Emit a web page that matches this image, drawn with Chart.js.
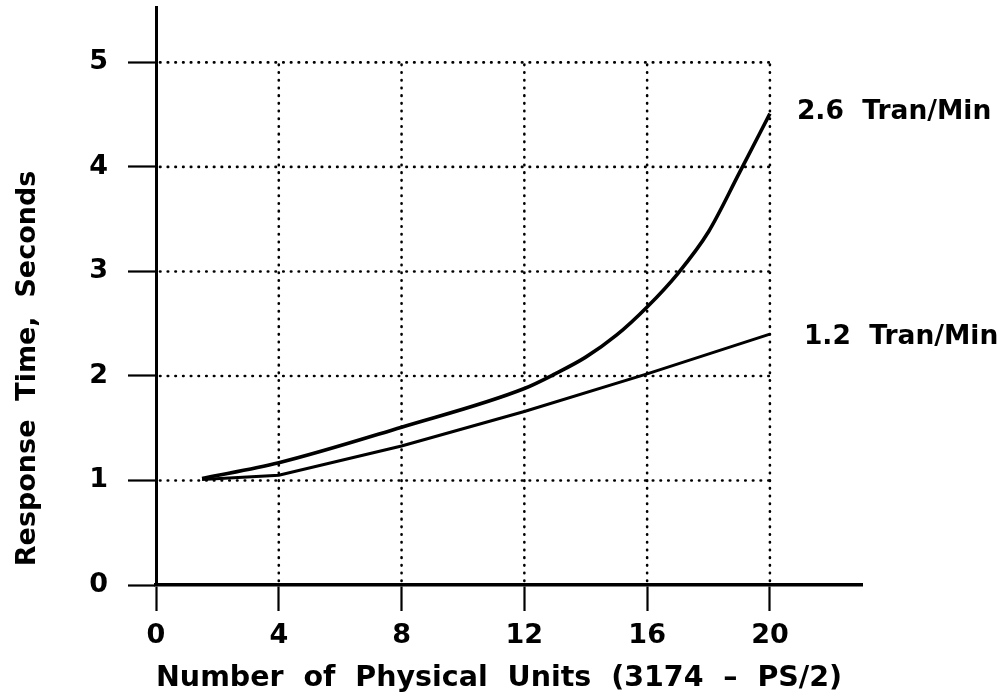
<!DOCTYPE html>
<html lang="en">
<head>
  <meta charset="UTF-8" />
  <title>Response Time vs Physical Units</title>
  <script src="https://cdn.jsdelivr.net/npm/chart.js"></script>
  <style>
    body {
      margin: 0;
      background-color: #ffffff;
    }
    .chart-wrap {
      width: 1005px;
      height: 700px;
    }
  </style>
</head>
<body>
  <div class="chart-wrap">
    <canvas id="lineChart"></canvas>
  </div>

  <script>
    // values
    const fastX = [1.5, 4, 8, 12, 13, 14, 15, 16, 17, 18, 19, 20];
    const fastY = [1.02, 1.17, 1.51, 1.88, 2.02, 2.18, 2.39, 2.66, 2.98, 3.38, 3.94, 4.51];
    const slowX = [1.5, 4, 8, 12, 16, 20];
    const slowY = [1.01, 1.05, 1.33, 1.66, 2.02, 2.40];
    const seriesLabels = ['2.6  Tran/Min', '1.2  Tran/Min'];
    const xTicks = [0, 4, 8, 12, 16, 20];
    const yTicks = [0, 1, 2, 3, 4, 5];

    const FONT = 'DejaVu Sans';

    function toPoints(xs, ys) {
      return xs.map((x, i) => ({ x: x, y: ys[i] }));
    }

    // Dotted grid that stops at the last tick, like the original
    const dottedGrid = {
      id: 'dottedGrid',
      beforeDatasetsDraw(chart) {
        const ctx = chart.ctx;
        const xs = chart.scales.x;
        const ys = chart.scales.y;
        const xEnd = xs.getPixelForValue(xTicks[xTicks.length - 1]);
        const yEnd = ys.getPixelForValue(yTicks[yTicks.length - 1]);
        const x0 = xs.getPixelForValue(xTicks[0]);
        const y0 = ys.getPixelForValue(yTicks[0]);
        ctx.save();
        ctx.strokeStyle = '#000';
        ctx.lineWidth = 2.6;
        ctx.lineCap = 'round';
        ctx.setLineDash([0.5, 7.2]);
        yTicks.slice(1).forEach(v => {
          const py = ys.getPixelForValue(v);
          ctx.beginPath();
          ctx.moveTo(x0 + 4, py);
          ctx.lineTo(xEnd, py);
          ctx.stroke();
        });
        xTicks.slice(1).forEach(v => {
          const px = xs.getPixelForValue(v);
          ctx.beginPath();
          ctx.moveTo(px, y0 - 4);
          ctx.lineTo(px, yEnd);
          ctx.stroke();
        });
        ctx.restore();
      }
    };

    // Series names written to the right of each line end
    const endLabels = {
      id: 'endLabels',
      afterDatasetsDraw(chart) {
        const ctx = chart.ctx;
        ctx.save();
        ctx.font = 'bold 26.5px ' + FONT;
        ctx.fillStyle = '#000';
        ctx.textBaseline = 'middle';
        const offsets = [{ dx: 27, dy: -2 }, { dx: 34, dy: 3 }];
        chart.data.datasets.forEach((ds, i) => {
          const meta = chart.getDatasetMeta(i);
          const last = meta.data[meta.data.length - 1];
          ctx.fillText(seriesLabels[i], last.x + offsets[i].dx, last.y + offsets[i].dy);
        });
        ctx.restore();
      }
    };

    const ctx = document.getElementById('lineChart').getContext('2d');
    new Chart(ctx, {
      type: 'line',
      data: {
        datasets: [
          {
            label: seriesLabels[0],
            data: toPoints(fastX, fastY),
            borderColor: '#000',
            borderWidth: 3.6,
            pointRadius: 0,
            cubicInterpolationMode: 'monotone',
            fill: false
          },
          {
            label: seriesLabels[1],
            data: toPoints(slowX, slowY),
            borderColor: '#000',
            borderWidth: 3,
            pointRadius: 0,
            tension: 0,
            fill: false
          }
        ]
      },
      options: {
        responsive: true,
        maintainAspectRatio: false,
        animation: false,
        layout: { padding: { top: 7, right: 143, left: 0, bottom: 0 } },
        plugins: {
          legend: { display: false },
          tooltip: { enabled: false }
        },
        scales: {
          x: {
            type: 'linear',
            min: 0,
            max: 23,
            afterBuildTicks(scale) {
              scale.ticks = xTicks.map(v => ({ value: v }));
            },
            afterFit(scale) {
              scale.height = 115;
              scale.paddingLeft = 0;
            },
            border: { display: true, color: '#000', width: 3.5 },
            grid: {
              drawOnChartArea: false,
              drawTicks: true,
              tickLength: 26,
              tickWidth: 2.2,
              color: '#000'
            },
            ticks: {
              color: '#000',
              padding: 9,
              font: { family: FONT, size: 27, weight: 'bold' }
            },
            title: {
              display: true,
              text: 'Number  of  Physical  Units  (3174  –  PS/2)',
              align: 'start',
              color: '#000',
              padding: { top: 0 },
              font: { family: FONT, size: 28.5, weight: 'bold' }
            }
          },
          y: {
            type: 'linear',
            min: 0,
            max: 5.53,
            afterBuildTicks(scale) {
              scale.ticks = yTicks.map(v => ({ value: v }));
            },
            afterFit(scale) {
              scale.width = 156;
              scale.paddingTop = 0;
              scale.paddingBottom = 0;
            },
            border: { display: true, color: '#000', width: 3 },
            grid: {
              drawOnChartArea: false,
              drawTicks: true,
              tickLength: 28,
              tickWidth: 2.2,
              color: '#000'
            },
            ticks: {
              color: '#000',
              padding: 20,
              font: { family: FONT, size: 27, weight: 'bold' }
            },
            title: {
              display: true,
              text: '  Response  Time,  Seconds',
              align: 'start',
              color: '#000',
              padding: { top: 12 },
              font: { family: FONT, size: 27, weight: 'bold' }
            }
          }
        }
      },
      plugins: [dottedGrid, endLabels]
    });
  </script>
</body>
</html>
